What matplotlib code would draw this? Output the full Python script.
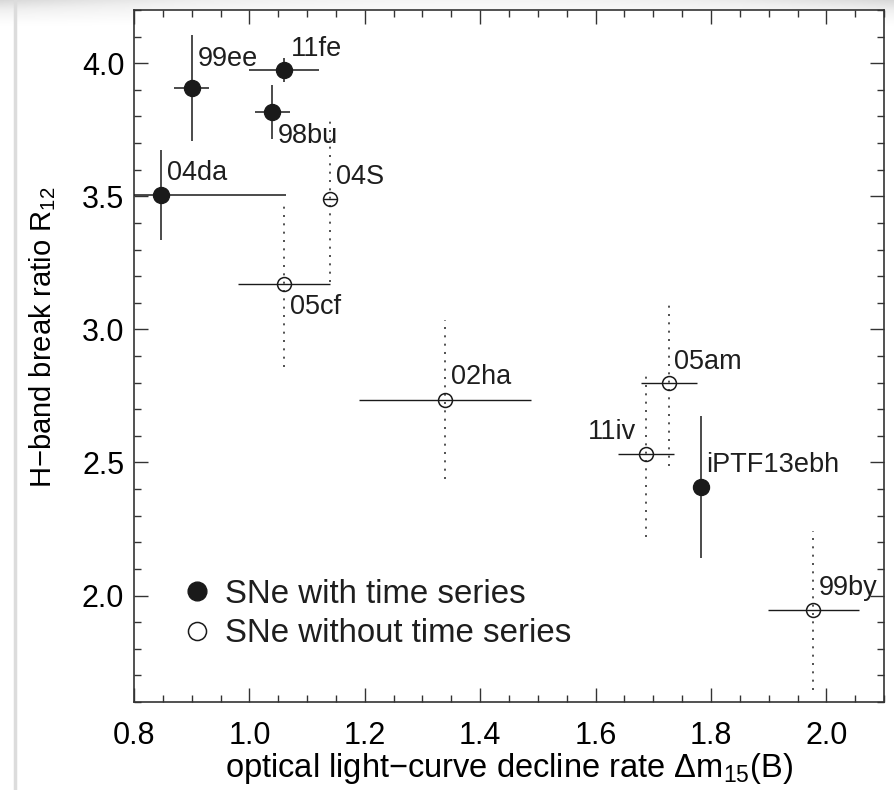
#!/usr/bin/env python3
"""
H-band break ratio vs. optical decline rate
"""

import matplotlib
matplotlib.use('Agg')
import matplotlib.pyplot as plt
import numpy as np
from matplotlib.lines import Line2D
from matplotlib.ticker import MultipleLocator

# SNe with time series (filled)
ts_names = ['99ee', '11fe', '98bu', '04da', 'iPTF13ebh']
ts_dm15 = [0.90, 1.06, 1.04, 0.847, 1.782]
ts_dm15_err = [0.03, 0.06, 0.03, 0.217, 0.0]
ts_r12 = [3.907, 3.974, 3.817, 3.504, 2.407]
ts_r12_err = [0.20, 0.044, 0.10, 0.17, 0.266]

# SNe without time series (open)
nts_names = ['04S', '05cf', '02ha', '05am', '11iv', '99by']
nts_dm15 = [1.140, 1.060, 1.339, 1.727, 1.687, 1.977]
nts_dm15_err = [0.012, 0.079, 0.149, 0.049, 0.049, 0.079]
nts_r12 = [3.489, 3.169, 2.736, 2.798, 2.531, 1.944]
nts_r12_err = [0.31, 0.31, 0.30, 0.31, 0.31, 0.30]

# label offsets in points (dx, dy, ha)
ts_offsets = {'99ee': (4, 21, 'left'), '11fe': (5, 15, 'left'),
              '98bu': (4, -17, 'left'), '04da': (4, 16, 'left'),
              'iPTF13ebh': (4, 16, 'left')}
nts_offsets = {'04S': (4, 16, 'left'), '05cf': (4, -16, 'left'),
               '02ha': (4, 16, 'left'), '05am': (4, 15, 'left'),
               '11iv': (-7, 16, 'right'), '99by': (4, 16, 'left')}

plt.rcParams['font.family'] = ['Liberation Sans', 'DejaVu Sans']
plt.rcParams['mathtext.fontset'] = 'custom'
plt.rcParams['mathtext.rm'] = 'Liberation Sans'
plt.rcParams['mathtext.it'] = 'Liberation Sans:italic'
plt.rcParams['text.color'] = '#1e1e1e'

ink = '#1a1a1a'

fig = plt.figure(figsize=(8.94, 7.90), dpi=100)

# faint scan shading along the top edge, darker towards the corners
bg = fig.add_axes([0, 0.965, 1, 0.035], zorder=0)
fade = np.linspace(1.0, 0.0, 28)[:, None] ** 1.5
edge = np.abs(np.linspace(-1, 1, 200))[None, :] ** 2
bg.imshow(fade * (0.35 + 0.65 * edge), cmap='Greys', vmin=0, vmax=4.0,
          aspect='auto', extent=(0, 1, 0, 1))
bg.axis('off')

ax = fig.add_axes([0.1499, 0.1114, 0.839, 0.876], zorder=1)
ax.set_facecolor('white')

# filled points
ax.errorbar(ts_dm15, ts_r12, xerr=ts_dm15_err, yerr=ts_r12_err, fmt='o',
            color=ink, ms=11.5, mec=ink, mfc=ink, ecolor=ink,
            elinewidth=1.1, capsize=0, zorder=3)

# open points: solid horizontal, dotted vertical
ax.errorbar(nts_dm15, nts_r12, xerr=nts_dm15_err, fmt='none',
            ecolor=ink, elinewidth=1.0, capsize=0, zorder=2)
eb = ax.errorbar(nts_dm15, nts_r12, yerr=nts_r12_err, fmt='none',
                 ecolor='#333333', elinewidth=1.2, capsize=0, zorder=2)
eb[2][0].set_linestyle((0, (1.2, 3.8)))
ax.plot(nts_dm15, nts_r12, 'o', ms=10, mfc='none', mec=ink, mew=1.1,
        zorder=3)

for n, x, y in zip(ts_names, ts_dm15, ts_r12):
    dx, dy, ha = ts_offsets[n]
    ax.annotate(n, (x, y), xytext=(dx, dy), textcoords='offset points',
                ha=ha, va='center', fontsize=19.5)
for n, x, y in zip(nts_names, nts_dm15, nts_r12):
    dx, dy, ha = nts_offsets[n]
    ax.annotate(n, (x, y), xytext=(dx, dy), textcoords='offset points',
                ha=ha, va='center', fontsize=19.5)

ax.set_xlim(0.8, 2.1)
ax.set_ylim(1.6, 4.2)
ax.xaxis.set_major_locator(MultipleLocator(0.2))
ax.xaxis.set_minor_locator(MultipleLocator(0.05))
ax.yaxis.set_major_locator(MultipleLocator(0.5))
ax.yaxis.set_minor_locator(MultipleLocator(0.1))
ax.tick_params(which='both', direction='in', top=True, right=True,
               width=1.0, color='#333333', labelsize=22)
ax.tick_params(which='major', length=10)
ax.tick_params(which='minor', length=5)
ax.tick_params(axis='x', pad=14)
ax.tick_params(axis='y', pad=7)
for s in ax.spines.values():
    s.set_linewidth(1.2)
    s.set_color('#333333')

ax.set_xlabel('optical light\u2212curve decline rate \u0394m$_{15}$(B)',
              fontsize=23.5, labelpad=0)
ax.set_ylabel('H\u2212band break ratio R$_{12}$', fontsize=21)
ax.yaxis.set_label_coords(-0.101, 0.527)

handles = [Line2D([], [], ls='none', marker='o', ms=13.5, mfc=ink, mec=ink),
           Line2D([], [], ls='none', marker='o', ms=13, mfc='white', mec=ink,
                  mew=1.1)]
ax.legend(handles, ['SNe with time series', 'SNe without time series'],
          loc='upper left', bbox_to_anchor=(0.067, 0.178), frameon=False,
          fontsize=23.8, handlelength=0.8, handletextpad=0.42,
          labelspacing=0.25, borderpad=0, borderaxespad=0)

# faint scan edge on the left
fig.add_artist(Line2D([0.017, 0.017], [0.0, 1.0], transform=fig.transFigure,
                      color='#dcdcdc', lw=2.5))

plt.savefig('out.png', dpi=100, facecolor='white')
plt.close()
